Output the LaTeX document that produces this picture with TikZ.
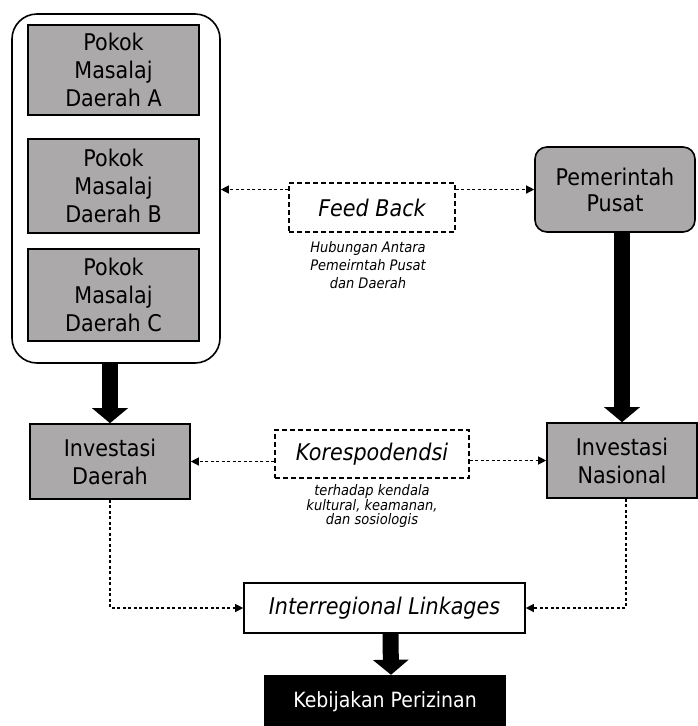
\documentclass[tikz,border=0pt]{standalone}
\usepackage{fontspec}
\setmainfont{DejaVu Sans}[FakeStretch=0.9]
\usetikzlibrary{arrows.meta}
\definecolor{kotakabu}{RGB}{171,169,169}
\begin{document}
\begin{tikzpicture}[x=1pt,y=-1pt,>={Triangle[length=8pt,width=8pt]},
	kotak/.style={draw,line width=1.6pt,fill=kotakabu,align=center,inner sep=0pt,font=\fontsize{23}{28}\selectfont},
	putus/.style={draw,line width=1.3pt,dash pattern=on 5pt off 3pt,align=center,inner sep=0pt,font=\fontsize{23}{28}\selectfont\itshape},
	catatan/.style={align=center,inner sep=0pt,font=\fontsize{14.5}{18}\selectfont\itshape},
	garis/.style={line width=1.2pt,dash pattern=on 3pt off 2.5pt,->},
	tebal/.style={line width=16pt,-{Triangle[length=15pt,width=35pt]}}]
		\useasboundingbox (0,0) rectangle (697,726);
		% blok masalah daerah
		\node[draw,line width=1.6pt,rounded corners=25pt,minimum width=208pt,minimum height=349pt] (daerah) at (116,188.5) {};
		\node[kotak,minimum width=171pt,minimum height=90pt] (pokokA) at (113.5,70) {Pokok\\Masalaj\\Daerah A};
		\node[kotak,minimum width=171pt,minimum height=94pt] (pokokB) at (113.5,186) {Pokok\\Masalaj\\Daerah B};
		\node[kotak,minimum width=171pt,minimum height=92pt] (pokokC) at (113.5,295) {Pokok\\Masalaj\\Daerah C};
		\node[kotak,rounded corners=12pt,minimum width=160pt,minimum height=85pt,font=\fontsize{23}{26}\selectfont] (pusat) at (615,189.5) {Pemerintah\\Pusat};
		\node[putus,minimum width=166pt,minimum height=49pt] (feed) at (372,207.5) {Feed Back};
		\node[catatan] (feednote) at (368,265) {Hubungan Antara\\Pemeirntah Pusat\\dan Daerah};
		% investasi
		\node[kotak,minimum width=160pt,minimum height=75pt] (invD) at (110,461.5) {Investasi\\Daerah};
		\node[kotak,minimum width=150pt,minimum height=75pt] (invN) at (622,460.5) {Investasi\\Nasional};
		\node[putus,minimum width=194pt,minimum height=48pt] (kores) at (372,454) {Korespodendsi};
		\node[catatan,font=\fontsize{14.5}{14}\selectfont\itshape] (koresnote) at (372,506) {terhadap kendala\\kultural, keamanan,\\dan sosiologis};
		\node[draw,line width=1.6pt,fill=white,inner sep=0pt,minimum width=281pt,minimum height=50pt,font=\fontsize{23}{28}\selectfont\itshape] (inter) at (384.5,608) {Interregional Linkages};
		\node[fill=black,text=white,inner sep=0pt,minimum width=242pt,minimum height=53pt,font=\fontsize{21}{26}\selectfont] (izin) at (385,701.5) {Kebijakan Perizinan};
		% panah
		\draw[garis] (feed.west |- pusat.west) -- (daerah.east |- pusat.west);
		\draw[garis] (feed.east |- pusat.west) -- (pusat.west);
		\draw[garis] (kores.west |- invD.east) -- (invD.east);
		\draw[garis] (kores.east |- invN.west) -- (invN.west);
		\draw[garis] (invD.south) |- (inter.west);
		\draw[garis] ([xshift=4pt]invN.south) |- (inter.east);
		\draw[tebal] (invD.north |- daerah.south) -- (invD.north);
		\draw[tebal] (invN.north |- pusat.south) -- (invN.north);
		\draw[tebal] ([xshift=6pt]inter.south) -- ([xshift=6pt]izin.north);
\end{tikzpicture}
\end{document}
